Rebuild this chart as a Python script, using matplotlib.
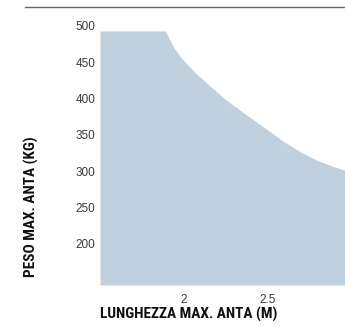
import matplotlib
matplotlib.use("Agg")
import matplotlib.pyplot as plt
import matplotlib.transforms as mtransforms
from matplotlib import font_manager
from matplotlib.lines import Line2D

# max leaf length (m) vs max leaf weight (kg)
lengths = [1.5, 1.89, 1.91, 1.94, 1.98, 2.06, 2.16, 2.25, 2.35, 2.49, 2.59, 2.69, 2.79, 2.89, 2.96]
weights = [500, 500, 490, 477, 464, 444, 423, 405, 388, 365, 348, 334, 322, 313, 308]

y_ticks = [200, 250, 300, 350, 400, 450, 500]
x_ticks = [2, 2.5]
x_tick_labels = ["2", "2.5"]


def condensed_bold():
    # pick a narrow bold face if one is installed
    def wt(f):
        w = f.weight
        return w if isinstance(w, int) else font_manager.weight_dict.get(w, 400)
    found = []
    for f in font_manager.fontManager.ttflist:
        narrow = ("Narrow" in f.name or "Condensed" in f.name
                  or f.stretch in ("condensed", "semi-condensed", "extra-condensed", "ultra-condensed"))
        if narrow and wt(f) >= 600 and f.style == "normal":
            found.append(f)
    if not found:
        return font_manager.FontProperties(family="DejaVu Sans", weight="bold", stretch="condensed")
    rank = ["Liberation Sans Narrow", "Roboto Condensed", "DejaVu Sans"]
    found.sort(key=lambda f: (rank.index(f.name) if f.name in rank else 9, wt(f)))
    return font_manager.FontProperties(fname=found[0].fname)


fig = plt.figure(figsize=(3.45, 3.27), dpi=100)
W, H = 345, 327
ax = fig.add_axes([100 / W, 1 - 285 / H, 245 / W, 254 / H])

ax.fill_between(lengths, 150, weights, color="#bfd1de", linewidth=0)
ax.set_xlim(1.5, 2.958)
ax.set_ylim(150, 500)

ax.set_yticks(y_ticks)
ax.set_xticks(x_ticks)
ax.set_xticklabels(x_tick_labels)
ax.tick_params(length=0, labelsize=8.5, labelcolor="#3a3a3a")
ax.tick_params(axis="y", pad=3.5)
ax.tick_params(axis="x", pad=6.5)
for lab in ax.get_xticklabels() + ax.get_yticklabels():
    lab.set_fontfamily("Liberation Sans")
# y labels sit a few pixels above their grid value in the original
shift = mtransforms.ScaledTranslation(0, 5 / 100, fig.dpi_scale_trans)
for lab in ax.get_yticklabels():
    lab.set_transform(lab.get_transform() + shift)

for s in ax.spines.values():
    s.set_visible(False)

# rule at the top
fig.add_artist(Line2D([25 / W, 1], [1 - 7 / H, 1 - 7 / H], color="#666666", linewidth=1))

fp = condensed_bold()
fp.set_size(11)
fp.set_weight("bold")
fig.text(189 / W, 1 - 314 / H, "LUNGHEZZA MAX. ANTA (M)", ha="center", va="center",
         fontproperties=fp, color="#111111")
fig.text(31.5 / W, 1 - 206.5 / H, "PESO MAX. ANTA (KG)", ha="center", va="center",
         rotation=90, fontproperties=fp, color="#111111")

fig.savefig("out.png", dpi=100)
